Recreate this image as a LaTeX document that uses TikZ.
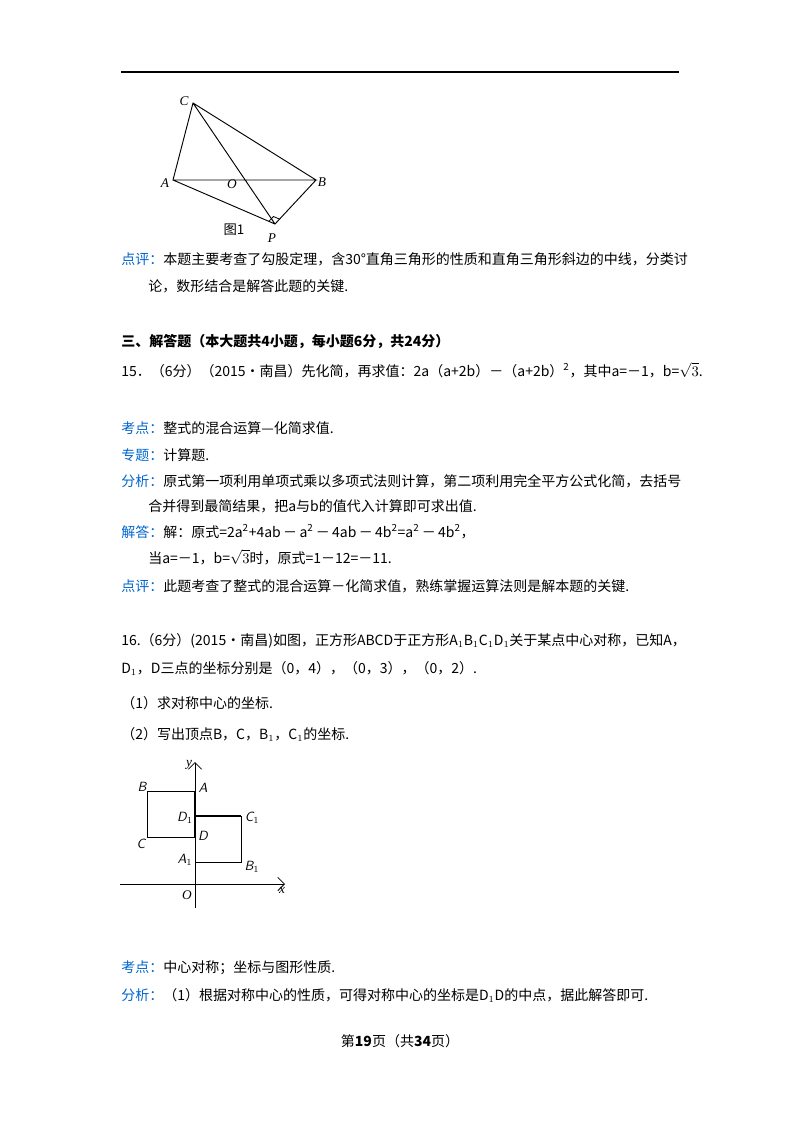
\documentclass[tikz,border=0pt]{standalone}
\usepackage{fontspec}
\setmainfont{Liberation Serif}
\newfontfamily\cjk{Noto Sans CJK SC}
\usetikzlibrary{arrows.meta,calc}
\definecolor{kblue}{RGB}{0,102,204}
\begin{document}
\begin{tikzpicture}[x=0.75pt,y=-0.75pt,
  txt/.style={anchor=base west,inner sep=0pt,font=\cjk\fontsize{10.5pt}{12pt}\selectfont},
  lab/.style={inner sep=0pt,font=\itshape\fontsize{10pt}{11pt}\selectfont},
  slab/.style={inner sep=0pt,font=\sffamily\itshape\fontsize{10pt}{11pt}\selectfont},
  thin/.style={line width=0.6pt},
  fig/.style={line width=0.7pt}]
\useasboundingbox (0,0) rectangle (800,1132);
\draw[line width=1pt] (121,72) -- (679,72);
% figure 1
\coordinate (C) at (193,103); \coordinate (A) at (173,180);
\coordinate (B) at (316,180); \coordinate (P) at (275,224);
\draw[fig] (C)--(A)--(B)--cycle (A)--(P)--(B) (C)--(P);
\coordinate (p1) at ($(P)!5pt!(A)$);
\coordinate (p2) at ($(P)!5pt!(B)$);
\draw[thin] (p1) -- ($(p1)+(p2)-(P)$) -- (p2);
\node[lab] at (184,101) {C};
\node[lab] at (165,183) {A};
\node[lab] at (232,184) {O};
\node[lab] at (322,182) {B};
\node[lab] at (272,238) {P};
\node[inner sep=0pt,font=\cjk\fontsize{10pt}{11pt}\selectfont] at (234,230) {图1};
% text block 1
\node[txt] at (121,264) {\textcolor{kblue}{点评：}本题主要考查了勾股定理，含30°直角三角形的性质和直角三角形斜边的中线，分类讨};
\node[txt] at (148,291) {论，数形结合是解答此题的关键.};
\node[txt,font=\cjk\bfseries\fontsize{10.5pt}{12pt}\selectfont] at (121,346) {三、解答题（本大题共4小题，每小题6分，共24分）};
\node[txt] at (121,376) {15．（6分）（2015•南昌）先化简，再求值：2a（a+2b）－（a+2b）\textsuperscript{2}，其中a=－1，b=$\sqrt{3}$.};
\node[txt] at (121,433) {\textcolor{kblue}{考点：}整式的混合运算—化简求值.};
\node[txt] at (121,460) {\textcolor{kblue}{专题：}计算题.};
\node[txt] at (121,486) {\textcolor{kblue}{分析：}原式第一项利用单项式乘以多项式法则计算，第二项利用完全平方公式化简，去括号};
\node[txt] at (148,511) {合并得到最简结果，把a与b的值代入计算即可求出值.};
\node[txt] at (121,537) {\textcolor{kblue}{解答：}解：原式=2a\textsuperscript{2}+4ab\,－\,a\textsuperscript{2}\,－\,4ab\,－\,4b\textsuperscript{2}=a\textsuperscript{2}\,－\,4b\textsuperscript{2}，};
\node[txt] at (148,563) {当a=－1，b=$\sqrt{3}$时，原式=1－12=－11.};
\node[txt] at (121,591) {\textcolor{kblue}{点评：}此题考查了整式的混合运算－化简求值，熟练掌握运算法则是解本题的关键.};
\node[txt] at (121,645) {16.（6分）(2015•南昌)如图，正方形ABCD于正方形A$_1$B$_1$C$_1$D$_1$关于某点中心对称，已知A，};
\node[txt] at (121,673) {D$_1$，D三点的坐标分别是（0，4），（0，3），（0，2）.};
\node[txt] at (121,708) {（1）求对称中心的坐标.};
\node[txt] at (121,739) {（2）写出顶点B，C，B$_1$，C$_1$的坐标.};
% figure 2
\coordinate (O) at (195,884);
\coordinate (yb) at (195,908); \coordinate (yt) at (195,762);
\coordinate (xl) at (120,884); \coordinate (xr) at (285,884);
\draw[thin,-{Straight Barb[length=5pt]}] (yb) -- (yt);
\draw[thin,-{Straight Barb[length=5pt]}] (xl) -- (xr);
\coordinate (Aq) at (195,791); \coordinate (Bq) at (147,791);
\coordinate (Cq) at (147,837); \coordinate (Dq) at (195,837);
\coordinate (D1) at (195,816); \coordinate (C1) at (241,816);
\coordinate (B1) at (241,862); \coordinate (A1) at (195,862);
\draw[thin] (Aq)--(Bq)--(Cq)--(Dq);
\draw[thin] (C1)--(B1)--(A1);
\draw[line width=1.4pt] (Aq)--(Dq) (D1)--(C1);
\node[lab] at (189,765) {y};
\node[lab] at (282,890) {x};
\node[lab] at (187,895) {O};
\node[slab] at (142,787) {B};
\node[slab] at (203,788) {A};
\node[slab] at (185,818) {D$_1$};
\node[slab] at (252,818) {C$_1$};
\node[slab] at (203,836) {D};
\node[slab] at (141,844) {C};
\node[slab] at (185,860) {A$_1$};
\node[slab] at (252,867) {B$_1$};
% text block 3
\node[txt] at (121,972) {\textcolor{kblue}{考点：}中心对称；坐标与图形性质.};
\node[txt] at (121,1000) {\textcolor{kblue}{分析：}（1）根据对称中心的性质，可得对称中心的坐标是D$_1$D的中点，据此解答即可.};
\node[txt,anchor=base] at (400,1046) {第\textbf{19}页（共\textbf{34}页）};
\end{tikzpicture}
\end{document}
